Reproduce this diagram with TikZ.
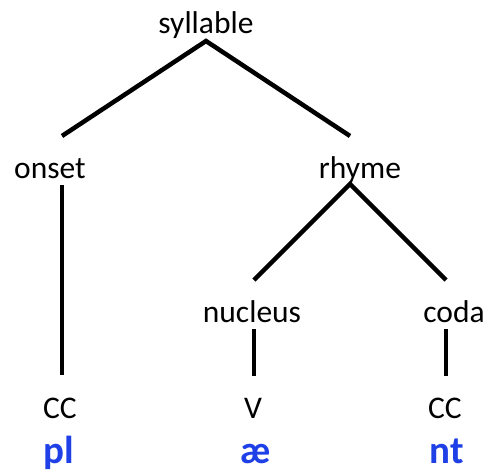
\documentclass[tikz,border=0pt]{standalone}
\usepackage{fontspec}
\setmainfont{Carlito}
\usetikzlibrary{calc}
\definecolor{ipablue}{RGB}{30,64,230}
\begin{document}
\begin{tikzpicture}[x=1pt,y=-1pt,
  lab/.style={anchor=base,inner sep=0pt,font=\fontsize{31.5}{31.5}\selectfont},
  seg/.style={anchor=base,inner sep=0pt,text=ipablue,font=\fontsize{39}{39}\selectfont\bfseries},
  branch/.style={line width=4.5pt,line join=miter,line cap=butt}]
\useasboundingbox (0,0) rectangle (485,472);
\node[lab] (syl) at (206,33) {syllable};
\node[lab] (ons) at (50,178) {onset};
\node[lab] (rhy) at (360,178) {rhyme};
\node[lab] (nuc) at (252,322) {nucleus};
\node[lab] (cod) at (454,322) {coda};
\node[lab] (c1) at (60,418) {CC};
\node[lab] (v) at (253,418) {V};
\node[lab] (c2) at (445,418) {CC};
\node[seg] (pl) at (59,463) {pl};
\node[seg] (ae) at (256,463) {æ};
\node[seg] (nt) at (447,463) {nt};
% connector ends
\coordinate (sylB) at ($(syl.base)+(0,8)$);
\coordinate (onsT) at ($(ons.base)+(12,-42)$);
\coordinate (rhyT) at ($(rhy.base)+(-10,-42)$);
\coordinate (onsB) at ($(ons.base)+(12,7)$);
\coordinate (c1T)  at ($(c1.base)+(2,-43)$);
\coordinate (rhyB) at ($(rhy.base)+(-10,6)$);
\coordinate (nucT) at ($(nuc.base)+(2,-42)$);
\coordinate (codT) at ($(cod.base)+(-8,-42)$);
\coordinate (nucB) at ($(nuc.base)+(2,7)$);
\coordinate (vT)   at ($(v.base)+(1,-42)$);
\coordinate (codB) at ($(cod.base)+(-8,7)$);
\coordinate (c2T)  at ($(c2.base)+(1,-42)$);
\draw[branch] (onsT) -- (sylB) -- (rhyT);
\draw[branch] (onsB) -- (c1T);
\draw[branch] (nucT) -- (rhyB) -- (codT);
\draw[branch] (nucB) -- (vT);
\draw[branch] (codB) -- (c2T);
\end{tikzpicture}
\end{document}
